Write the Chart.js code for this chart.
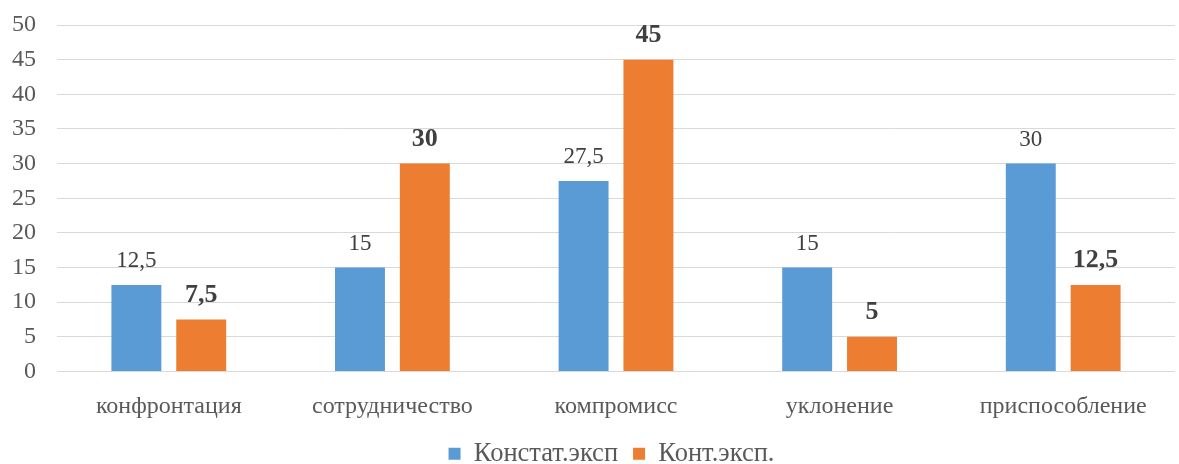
<!DOCTYPE html>
<html>
<head>
<meta charset="utf-8">
<script src="https://cdn.jsdelivr.net/npm/chart.js@4/dist/chart.umd.min.js"></script>
<style>
  html, body { margin: 0; padding: 0; background: #fff; }
</style>
</head>
<body>
<canvas id="chart" width="1179" height="464"></canvas>
<script>
const categories = ["конфронтация", "сотрудничество", "компромисс", "уклонение", "приспособление"];
const konstat = [12.5, 15, 27.5, 15, 30];
const kont = [7.5, 30, 45, 5, 12.5];
const yTicks = [0, 5, 10, 15, 20, 25, 30, 35, 40, 45, 50];

const fmt = v => String(v).replace(".", ",");

// value labels above bars
const barLabels = {
    id: "barLabels",
    afterDatasetsDraw(chart) {
        const ctx = chart.ctx;
        chart.data.datasets.forEach((ds, i) => {
            const meta = chart.getDatasetMeta(i);
            meta.data.forEach((bar, j) => {
                ctx.save();
                ctx.textAlign = "center";
                ctx.textBaseline = "alphabetic";
                ctx.fillStyle = "#404040";
                if (i === 0) {
                    ctx.font = "23px 'Liberation Serif'";
                    ctx.fillText(fmt(ds.data[j]), bar.x, bar.y - 18);
                } else {
                    ctx.font = "bold 26px 'Liberation Serif'";
                    ctx.fillText(fmt(ds.data[j]), bar.x, bar.y - 18);
                }
                ctx.restore();
            });
        });
    }
};

// legend is centred on the plot area, not the whole canvas
const legendShift = {
    id: "legendShift",
    afterLayout(chart) {
        chart.legend.left += 24;
        chart.legend.right += 24;
    }
};

new Chart(document.getElementById("chart"), {
    type: "bar",
    data: {
        labels: categories,
        datasets: [
            { label: "Констат.эксп", data: konstat, backgroundColor: "#5b9bd5" },
            { label: "Конт.эксп.", data: kont, backgroundColor: "#ed7d31" }
        ]
    },
    options: {
        responsive: false,
        animation: false,
        devicePixelRatio: 1,
        layout: { padding: { top: 25, right: 4, left: 0, bottom: -13 } },
        datasets: { bar: { categoryPercentage: 0.58, barPercentage: 0.77 } },
        plugins: {
            legend: {
                position: "bottom",
                labels: {
                    font: { family: "'Liberation Serif'", size: 26.5 },
                    color: "#595959",
                    boxWidth: 12,
                    boxHeight: 12,
                    padding: 15
                }
            },
            tooltip: { enabled: false }
        },
        scales: {
            x: {
                grid: { display: false },
                border: { display: false },
                afterFit: s => { s.height = 54; },
                ticks: {
                    font: { family: "'Liberation Serif'", size: 24 },
                    color: "#595959",
                    padding: 13
                }
            },
            y: {
                min: 0,
                max: 50,
                afterBuildTicks: s => { s.ticks = yTicks.map(v => ({ value: v })); },
                afterFit: s => { s.width = 57; s.paddingTop = 0; s.paddingBottom = 0; },
                grid: { color: "#d9d9d9", lineWidth: 1, drawTicks: false },
                border: { display: false },
                ticks: {
                    font: { family: "'Liberation Serif'", size: 24 },
                    color: "#595959",
                    padding: 21
                }
            }
        }
    },
    plugins: [barLabels, legendShift]
});
</script>
</body>
</html>
